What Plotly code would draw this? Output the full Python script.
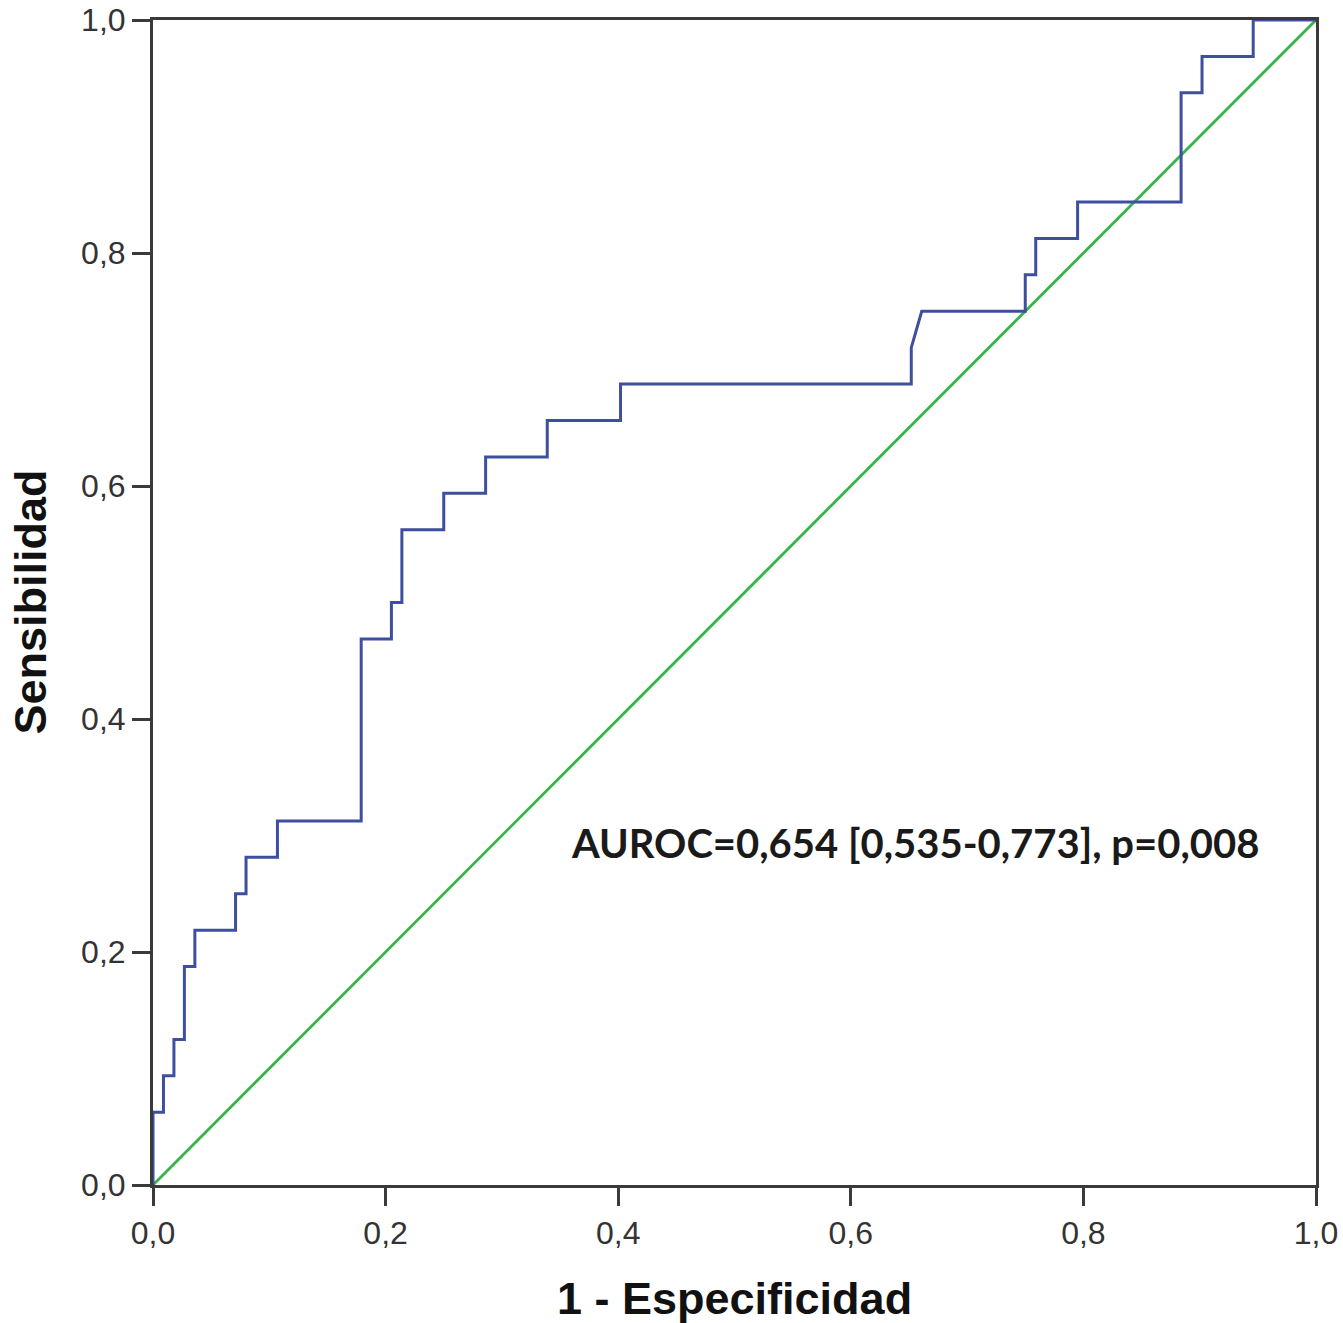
import plotly.graph_objects as go

# ROC curve points (1 - specificity, sensitivity)
fpr = [0.0, 0.0, 0.009, 0.009, 0.018, 0.018, 0.027, 0.027, 0.036, 0.036,
       0.071, 0.071, 0.080, 0.080, 0.107, 0.107, 0.179, 0.179, 0.205, 0.205,
       0.214, 0.214, 0.250, 0.250, 0.286, 0.286, 0.339, 0.339, 0.402, 0.402,
       0.652, 0.652, 0.661, 0.750, 0.750, 0.759, 0.759, 0.795, 0.795, 0.884,
       0.884, 0.902, 0.902, 0.946, 0.946, 1.0]
tpr = [0.0, 0.0625, 0.0625, 0.09375, 0.09375, 0.125, 0.125, 0.1875, 0.1875, 0.21875,
       0.21875, 0.25, 0.25, 0.28125, 0.28125, 0.3125, 0.3125, 0.46875, 0.46875, 0.5,
       0.5, 0.5625, 0.5625, 0.59375, 0.59375, 0.625, 0.625, 0.65625, 0.65625, 0.6875,
       0.6875, 0.71875, 0.75, 0.75, 0.78125, 0.78125, 0.8125, 0.8125, 0.84375, 0.84375,
       0.9375, 0.9375, 0.96875, 0.96875, 1.0, 1.0]

ref_x = [0.0, 1.0]
ref_y = [0.0, 1.0]

tick_vals = [0.0, 0.2, 0.4, 0.6, 0.8, 1.0]

annotation_text = "AUROC=0,654 [0,535-0,773], p=0,008"
x_title = "1 - Especificidad"
y_title = "Sensibilidad"

W, H = 1343, 1323
L, R, T, B = 153, 27, 20, 138
plot_w = W - L - R
plot_h = H - T - B

fig = go.Figure()
fig.add_trace(go.Scatter(x=ref_x, y=ref_y, mode="lines",
                         line=dict(color="#35B548", width=2.8),
                         showlegend=False, hoverinfo="skip"))
fig.add_trace(go.Scatter(x=fpr, y=tpr, mode="lines",
                         line=dict(color="#3F4F9F", width=3),
                         showlegend=False))

axis_common = dict(
    range=[0, 1], tickvals=tick_vals, tickformat=".1f",
    showgrid=False, zeroline=False,
    showline=True, linewidth=3, linecolor="#3a3a3a", mirror=True,
    ticks="outside", ticklen=18, tickwidth=3, tickcolor="#3a3a3a",
    tickfont=dict(family="Liberation Sans, Arial, sans-serif", size=32, color="#333333"),
    ticklabeloverflow="allow",
    fixedrange=True,
)
fig.update_xaxes(**axis_common)
fig.update_yaxes(**axis_common)

fig.add_annotation(x=0.655, y=0.2936, xref="x", yref="y", text=annotation_text,
                   showarrow=False, xanchor="center", yanchor="middle",
                   font=dict(family="Lato, Open Sans, sans-serif", size=40, color="#1a1a1a",
                             weight="bold"))

# axis titles placed as annotations (pixel targets relative to the plot area)
fig.add_annotation(x=0.5, y=-(1298 - 1185) / plot_h, xref="paper", yref="paper",
                   text="<b>" + x_title + "</b>", showarrow=False,
                   xanchor="center", yanchor="middle",
                   font=dict(family="Liberation Sans, Arial, sans-serif", size=45, color="#111111"))
fig.add_annotation(x=-(153 - 30) / plot_w, y=0.5, xref="paper", yref="paper",
                   text="<b>" + y_title + "</b>", showarrow=False, textangle=-90,
                   xanchor="center", yanchor="middle",
                   font=dict(family="Liberation Sans, Arial, sans-serif", size=45, color="#111111"))

fig.update_layout(
    width=W, height=H,
    margin=dict(l=L, r=R, t=T, b=B, autoexpand=False),
    paper_bgcolor="white", plot_bgcolor="white",
    separators=",.",
    showlegend=False,
)

fig.write_html("out.html",
               config={"displayModeBar": False, "staticPlot": True},
               post_script="document.body.style.margin='0px';document.body.style.overflow='hidden';")
